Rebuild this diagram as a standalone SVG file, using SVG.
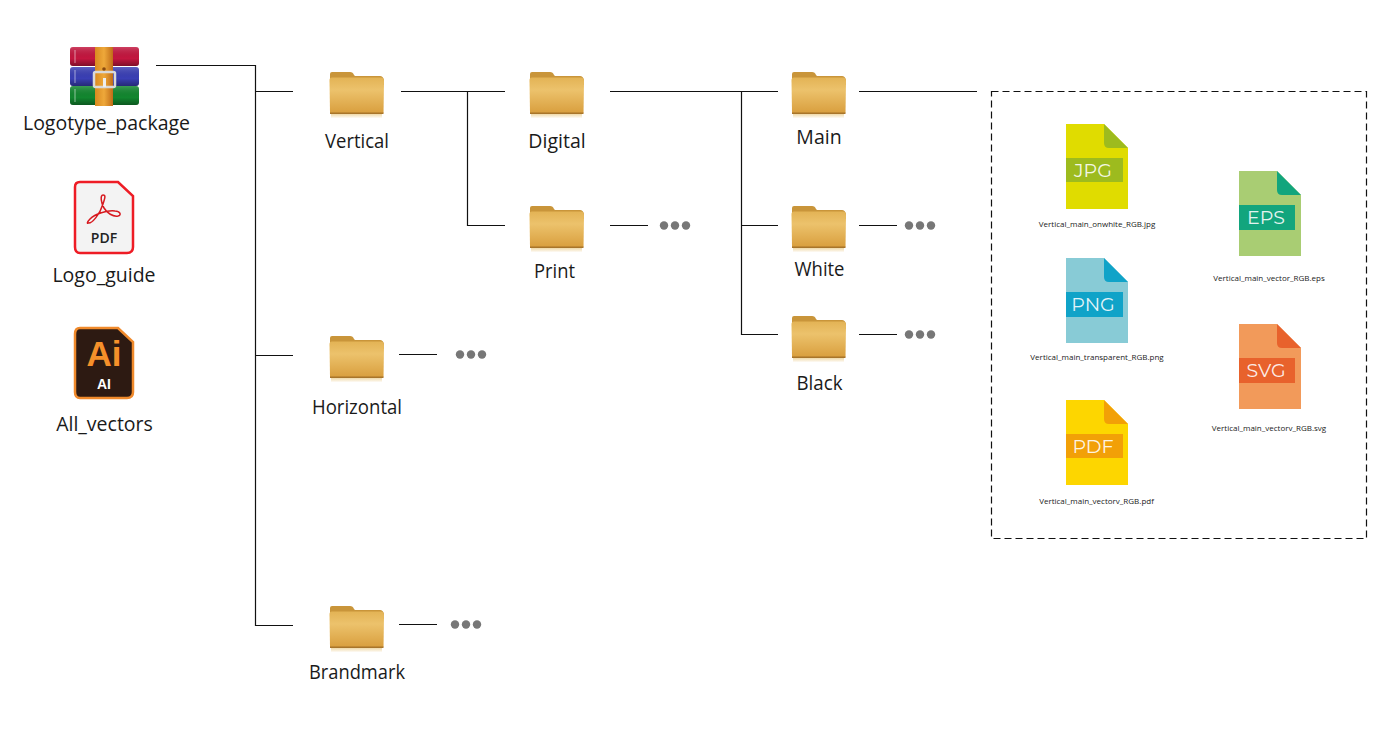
<svg xmlns="http://www.w3.org/2000/svg" width="1400" height="740" viewBox="0 0 1400 740">
<style>
.lbl{font-family:"Open Sans","Liberation Sans",sans-serif;font-size:19.5px;fill:#1a1a1a;text-anchor:middle}
.fn{font-family:"Open Sans","Liberation Sans",sans-serif;font-size:8px;fill:#222;text-anchor:middle}
.ft{font-family:"Montserrat","Open Sans","Liberation Sans",sans-serif;font-size:19px;fill:#fff;fill-opacity:.9;text-anchor:middle}
.cn{fill:none;stroke:#111;stroke-width:1.2}
.dot{fill:#777}
</style>
<defs>
<linearGradient id="fg" x1="0" y1="0" x2="0" y2="1"><stop offset="0" stop-color="#e3b355"/><stop offset=".35" stop-color="#ecc26c"/><stop offset="1" stop-color="#d99f3e"/></linearGradient>
<linearGradient id="fr" x1="0" y1="0" x2="0" y2="1"><stop offset="0" stop-color="#f0d9a8"/><stop offset="1" stop-color="#fff"/></linearGradient>
<linearGradient id="st" x1="0" y1="0" x2="1" y2="0"><stop offset="0" stop-color="#d98a20"/><stop offset=".5" stop-color="#eea83a"/><stop offset="1" stop-color="#c06c18"/></linearGradient>
<linearGradient id="bk" x1="0" y1="0" x2="0" y2="1"><stop offset="0" stop-color="#fff" stop-opacity=".18"/><stop offset=".6" stop-color="#000" stop-opacity="0"/><stop offset="1" stop-color="#000" stop-opacity=".35"/></linearGradient>
<g id="folder">
<path d="M1 8V3Q1 1 3 1H21Q24 1 25 4L26 5H51Q54 5 55 9V14H1Z" fill="#c9953a"/>
<path d="M0.500 9Q0.500 6.500 3 6.500H52Q55 6.500 55 10L54.500 42H1Z" fill="url(#fg)"/>
<rect x="1" y="41.500" width="53.500" height="1.500" fill="#a8752a"/>
<rect x="2" y="43" width="51" height="4.500" fill="url(#fr)"/>
</g>
<path id="sheet" d="M0 0H38L62 24V85H0Z"/>
<path id="fold" d="M38 0L62 24H43Q38 24 38 19Z"/>
</defs>
<rect width="1400" height="740" fill="#fff"/>
<g id="connectors">
<path class="cn" d="M156 65.500H255.500V625.500H293M255.500 91.500H293M255.500 355.500H293"/>
<path class="cn" d="M401 91.500H505M467.500 91.500V225.500H505M610 225.500H648"/>
<path class="cn" d="M610 91.500H778M741.500 91.500V334.500H778M741.500 225.500H778M859 91.500H977M859 225.500H897M859 334.500H897"/>
<path class="cn" d="M399 354.500H437M399 624.500H437"/>
<g class="dot">
<circle cx="664" cy="225.500" r="4.200"/><circle cx="675" cy="225.500" r="4.200"/><circle cx="686" cy="225.500" r="4.200"/>
<circle cx="909" cy="225.500" r="4.200"/><circle cx="920" cy="225.500" r="4.200"/><circle cx="931" cy="225.500" r="4.200"/>
<circle cx="909" cy="334.500" r="4.200"/><circle cx="920" cy="334.500" r="4.200"/><circle cx="931" cy="334.500" r="4.200"/>
<circle cx="460" cy="354.500" r="4.200"/><circle cx="471" cy="354.500" r="4.200"/><circle cx="482" cy="354.500" r="4.200"/>
<circle cx="455" cy="624.500" r="4.200"/><circle cx="466" cy="624.500" r="4.200"/><circle cx="477" cy="624.500" r="4.200"/>
</g>
</g>
<g id="logotype-package">
<rect x="70" y="47" width="69" height="19" rx="3" fill="#c4163f"/>
<rect x="70" y="67" width="69" height="19" rx="3" fill="#3a3fb5"/>
<rect x="70" y="86" width="69" height="19" rx="3" fill="#12872f"/>
<rect x="70" y="47" width="69" height="19" rx="3" fill="url(#bk)"/>
<rect x="70" y="67" width="69" height="19" rx="3" fill="url(#bk)"/>
<rect x="70" y="86" width="69" height="19" rx="3" fill="url(#bk)"/>
<path d="M75 50V63M75 70V83M75 89V102" stroke="#fff" stroke-opacity=".35" stroke-width="1.500" fill="none"/>
<rect x="95" y="47" width="18" height="59" fill="url(#st)"/>
<rect x="94" y="72" width="21" height="15" rx="1.500" fill="none" stroke="#d9d9d9" stroke-width="2.500"/>
<rect x="103" y="78" width="3" height="9" fill="#eee"/>
<circle cx="104" cy="69" r="1.800" fill="#8a4a10"/>
<text class="lbl" x="106.500" y="130">Logotype_package</text>
</g>
<g id="logo-guide">
<path d="M80 182H118L133 196V247Q133 253 127 253H80Q75 253 75 247V187Q75 182 80 182Z" fill="#f3f3f3" stroke="#ee1c25" stroke-width="2.500"/>
<path d="M88 223C92 224 100 214 103 204C105 198 106 195 103 195C100 195 101 203 104 208C107 213 113 217 118 216C122 215 120 211 115 211C107 210 95 214 90 219C87 222 87 224 88 223Z" fill="none" stroke="#d7191f" stroke-width="1.500"/>
<text x="104" y="243" font-family="'Open Sans','Liberation Sans',sans-serif" font-weight="600" font-size="14" fill="#222" text-anchor="middle">PDF</text>
<text class="lbl" x="104" y="282">Logo_guide</text>
</g>
<g id="all-vectors">
<path d="M80 328H118L133 342V392Q133 398 127 398H80Q75 398 75 392V334Q75 328 80 328Z" fill="#2d1a12" stroke="#f08a2c" stroke-width="2.500"/>
<text x="104" y="366" font-family="'Liberation Sans',sans-serif" font-weight="700" font-size="35" fill="#f5902a" text-anchor="middle">Ai</text>
<text x="104" y="389" font-family="'Liberation Sans',sans-serif" font-weight="700" font-size="14" fill="#fff" text-anchor="middle">AI</text>
<text class="lbl" x="104.500" y="431">All_vectors</text>
</g>
<g id="vertical"><use href="#folder" x="329" y="71"/><text class="lbl" x="357" y="148" textLength="64" lengthAdjust="spacingAndGlyphs">Vertical</text></g>
<g id="digital"><use href="#folder" x="529" y="71"/><text class="lbl" x="557" y="148">Digital</text></g>
<g id="print"><use href="#folder" x="529" y="205"/><text class="lbl" x="554.500" y="278" textLength="41" lengthAdjust="spacingAndGlyphs">Print</text></g>
<g id="main"><use href="#folder" x="791" y="71"/><text class="lbl" x="819" y="144">Main</text></g>
<g id="white"><use href="#folder" x="791" y="205"/><text class="lbl" x="819.500" y="276" textLength="50" lengthAdjust="spacingAndGlyphs">White</text></g>
<g id="black"><use href="#folder" x="791" y="315"/><text class="lbl" x="819.500" y="390" textLength="46" lengthAdjust="spacingAndGlyphs">Black</text></g>
<g id="horizontal"><use href="#folder" x="329" y="335"/><text class="lbl" x="357" y="414" textLength="90" lengthAdjust="spacingAndGlyphs">Horizontal</text></g>
<g id="brandmark"><use href="#folder" x="329" y="605"/><text class="lbl" x="357" y="679" textLength="96" lengthAdjust="spacingAndGlyphs">Brandmark</text></g>
<g id="files-box"><rect x="991.500" y="91.500" width="375" height="447" fill="none" stroke="#111" stroke-width="1.200" stroke-dasharray="7 4"/></g>
<g id="file-jpg" transform="translate(1066 124)"><use href="#sheet" fill="#e0dc00"/><use href="#fold" fill="#9dbb1e"/><rect y="34" width="57" height="24" fill="#9dbb1e"/><text class="ft" x="27" y="53">JPG</text><text class="fn" x="31" y="103">Vertical_main_onwhite_RGB.jpg</text></g>
<g id="file-eps" transform="translate(1239 171)"><use href="#sheet" fill="#a9cd73"/><use href="#fold" fill="#12a57d"/><rect y="34" width="56" height="25" fill="#12a57d"/><text class="ft" x="27" y="53">EPS</text><text class="fn" x="30" y="110">Vertical_main_vector_RGB.eps</text></g>
<g id="file-png" transform="translate(1066 258)"><use href="#sheet" fill="#88cbd6"/><use href="#fold" fill="#10a3c8"/><rect y="34" width="57" height="25" fill="#10a3c8"/><text class="ft" x="27" y="53">PNG</text><text class="fn" x="31" y="102">Vertical_main_transparent_RGB.png</text></g>
<g id="file-svg" transform="translate(1239 324)"><use href="#sheet" fill="#f29a5a"/><use href="#fold" fill="#e8622c"/><rect y="34" width="56" height="25" fill="#e8622c"/><text class="ft" x="27" y="53">SVG</text><text class="fn" x="30" y="107">Vertical_main_vectorv_RGB.svg</text></g>
<g id="file-pdf" transform="translate(1066 400)"><use href="#sheet" fill="#fdd600"/><use href="#fold" fill="#f2a007"/><rect y="34" width="57" height="24" fill="#f2a007"/><text class="ft" x="27" y="53">PDF</text><text class="fn" x="30.500" y="104">Vertical_main_vectorv_RGB.pdf</text></g>
</svg>
